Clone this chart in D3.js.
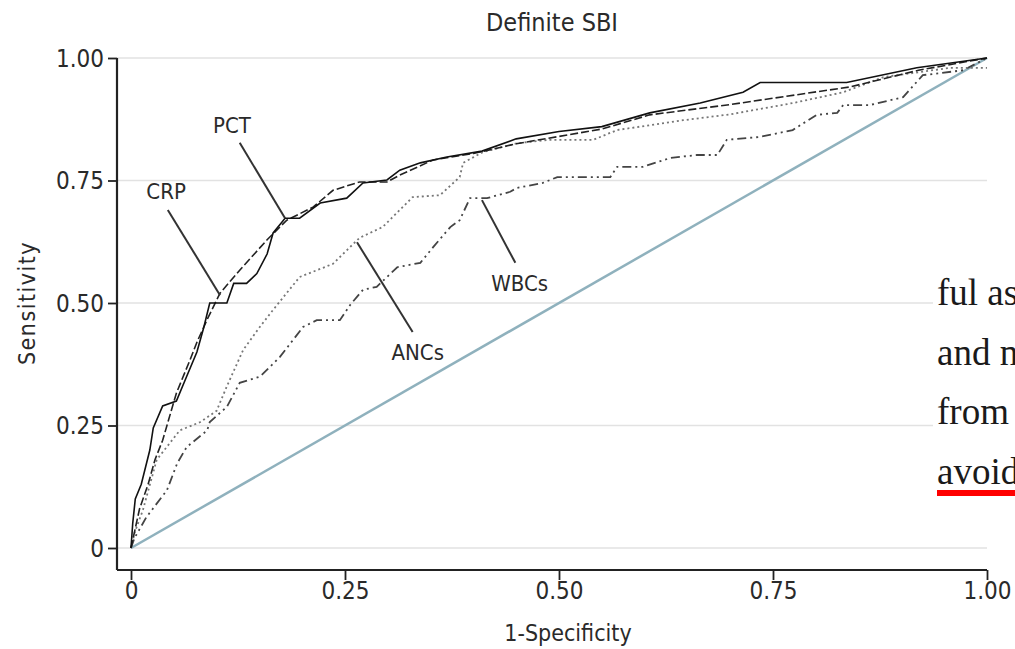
<!DOCTYPE html>
<html>
<head>
<meta charset="utf-8">
<script src="https://cdn.jsdelivr.net/npm/d3@7"></script>
<style>
  body { margin: 0; background: #fff; }
  svg { display: block; }
</style>
</head>
<body>
<div id="chart"></div>
<script>
// ROC curves, values as [1-specificity, sensitivity]
const pct = [[0,0],[0.002,0.05],[0.005,0.10],[0.012,0.13],[0.022,0.20],[0.026,0.245],[0.037,0.29],[0.053,0.30],[0.065,0.35],[0.077,0.40],[0.085,0.45],[0.092,0.50],[0.112,0.50],[0.12,0.54],[0.135,0.54],[0.147,0.56],[0.159,0.60],[0.166,0.643],[0.18,0.673],[0.197,0.673],[0.221,0.704],[0.252,0.714],[0.271,0.745],[0.299,0.751],[0.314,0.771],[0.338,0.786],[0.369,0.798],[0.41,0.81],[0.45,0.835],[0.5,0.85],[0.55,0.86],[0.606,0.888],[0.665,0.908],[0.715,0.93],[0.735,0.95],[0.836,0.95],[0.918,0.98],[1,1]]
const crp = [[0,0],[0.005,0.04],[0.01,0.08],[0.02,0.13],[0.028,0.18],[0.037,0.22],[0.053,0.316],[0.069,0.384],[0.077,0.42],[0.09,0.47],[0.104,0.52],[0.127,0.567],[0.159,0.629],[0.182,0.669],[0.213,0.696],[0.236,0.73],[0.267,0.747],[0.299,0.747],[0.314,0.761],[0.353,0.792],[0.4,0.805],[0.45,0.825],[0.5,0.84],[0.55,0.855],[0.606,0.884],[0.7,0.905],[0.84,0.941],[0.92,0.975],[1,1]]
const ancs = [[0,0],[0.004,0.03],[0.014,0.078],[0.03,0.18],[0.057,0.24],[0.081,0.257],[0.1,0.28],[0.112,0.33],[0.131,0.404],[0.15,0.45],[0.166,0.486],[0.197,0.553],[0.236,0.58],[0.267,0.633],[0.294,0.655],[0.329,0.716],[0.361,0.72],[0.384,0.757],[0.388,0.786],[0.411,0.808],[0.451,0.826],[0.489,0.833],[0.54,0.833],[0.568,0.853],[0.645,0.873],[0.7,0.885],[0.773,0.908],[0.832,0.93],[0.879,0.961],[0.957,0.98],[1,0.98]]
const wbcs = [[0,0],[0.004,0.02],[0.018,0.063],[0.042,0.118],[0.054,0.173],[0.065,0.206],[0.089,0.24],[0.092,0.257],[0.112,0.288],[0.127,0.337],[0.151,0.35],[0.174,0.39],[0.201,0.451],[0.217,0.465],[0.244,0.465],[0.256,0.496],[0.271,0.527],[0.287,0.533],[0.311,0.573],[0.338,0.582],[0.353,0.614],[0.373,0.655],[0.384,0.669],[0.396,0.714],[0.416,0.714],[0.443,0.727],[0.451,0.735],[0.481,0.745],[0.498,0.757],[0.56,0.757],[0.568,0.778],[0.598,0.778],[0.63,0.796],[0.661,0.802],[0.685,0.802],[0.696,0.833],[0.735,0.839],[0.773,0.853],[0.801,0.884],[0.825,0.888],[0.832,0.904],[0.863,0.904],[0.902,0.92],[0.925,0.965],[0.945,0.969],[0.972,0.975],[1,1]]
const reference = [[0,0],[1,1]]

const ticks = [0, 0.25, 0.5, 0.75, 1]
const tickLabels = ["0", "0.25", "0.50", "0.75", "1.00"]

// label text, label position, leader line start and end (data coords)
const labelNames = ["PCT", "CRP", "ANCs", "WBCs"]
const labelAt = [[0.118, 0.863], [0.041, 0.727], [0.335, 0.40], [0.454, 0.541]]
const leaderFrom = [[0.127, 0.827], [0.043, 0.69], [0.264, 0.624], [0.41, 0.71]]
const leaderTo = [[0.18, 0.673], [0.104, 0.516], [0.329, 0.441], [0.449, 0.582]]

const pageLines = ["ful as", "and n", "from", "avoid"]

const width = 1015, height = 649
const font = "'DejaVu Sans Condensed', 'Liberation Sans Narrow', sans-serif"

const x = d3.scaleLinear().domain([0, 1]).range([131, 987])
const y = d3.scaleLinear().domain([0, 1]).range([548, 58])

const svg = d3.select("#chart").append("svg")
    .attr("width", width)
    .attr("height", height)
    .style("font-family", font)

// grid
svg.append("g")
    .selectAll("line")
    .data(ticks)
    .join("line")
    .attr("x1", 117).attr("x2", x(1))
    .attr("y1", d => y(d)).attr("y2", d => y(d))
    .attr("stroke", "#e2e2e2")
    .attr("stroke-width", 1.5)

// axes
const yAxis = svg.append("g")
    .attr("transform", "translate(117,0)")
    .call(d3.axisLeft(y).tickValues(ticks).tickFormat((d, i) => tickLabels[i]).tickSize(9).tickSizeOuter(0))
const xAxis = svg.append("g")
    .attr("transform", "translate(0,570)")
    .call(d3.axisBottom(x).tickValues(ticks).tickFormat((d, i) => tickLabels[i]).tickSize(10).tickSizeOuter(0))

yAxis.select(".domain").attr("d", `M0,${y(1)}V570`)
xAxis.select(".domain").attr("d", `M117,0H${x(1)}`)
for (const ax of [xAxis, yAxis]) {
    ax.select(".domain").attr("stroke", "#222").attr("stroke-width", 2.2)
    ax.selectAll(".tick line").attr("stroke", "#222").attr("stroke-width", 1.8)
    ax.selectAll("text").attr("fill", "#2a2a2a").style("font-size", "24px").style("font-family", font)
}
yAxis.selectAll("text").attr("x", -13).attr("dy", "0.35em")
xAxis.selectAll("text").attr("y", 12)

svg.append("text")
    .attr("x", 552).attr("y", 31)
    .attr("text-anchor", "middle")
    .attr("fill", "#2a2a2a")
    .style("font-size", "25px")
    .text("Definite SBI")

svg.append("text")
    .attr("x", x(0.5) + 9).attr("y", 641)
    .attr("text-anchor", "middle")
    .attr("fill", "#2a2a2a")
    .style("font-size", "23px")
    .text("1-Specificity")

svg.append("text")
    .attr("transform", `translate(35,${y(0.5)}) rotate(-90)`)
    .attr("text-anchor", "middle")
    .attr("fill", "#2a2a2a")
    .style("font-size", "23px")
    .style("letter-spacing", "1.5px")
    .text("Sensitivity")

const line = d3.line().x(d => x(d[0])).y(d => y(d[1]))

const series = [
    { data: reference, color: "#8fb1bd", dash: null, w: 2.5 },
    { data: wbcs, color: "#444", dash: "9,4,2,4,2,4", w: 1.8 },
    { data: ancs, color: "#777", dash: "2,3", w: 1.8 },
    { data: crp, color: "#222", dash: "8,3", w: 1.6 },
    { data: pct, color: "#111", dash: null, w: 1.6 }
]

svg.append("g")
    .selectAll("path")
    .data(series)
    .join("path")
    .attr("d", d => line(d.data))
    .attr("fill", "none")
    .attr("stroke", d => d.color)
    .attr("stroke-width", d => d.w)
    .attr("stroke-dasharray", d => d.dash)

// leader lines and labels
svg.append("g")
    .selectAll("line")
    .data(labelNames)
    .join("line")
    .attr("x1", (d, i) => x(leaderFrom[i][0])).attr("y1", (d, i) => y(leaderFrom[i][1]))
    .attr("x2", (d, i) => x(leaderTo[i][0])).attr("y2", (d, i) => y(leaderTo[i][1]))
    .attr("stroke", "#333")
    .attr("stroke-width", 2)

svg.append("g")
    .selectAll("text")
    .data(labelNames)
    .join("text")
    .attr("x", (d, i) => x(labelAt[i][0]))
    .attr("y", (d, i) => y(labelAt[i][1]))
    .attr("dy", "0.35em")
    .attr("text-anchor", "middle")
    .attr("fill", "#2a2a2a")
    .style("font-size", "22px")
    .text(d => d)

// page text overlapping the right side of the figure
svg.append("rect")
    .attr("x", 933).attr("y", 262)
    .attr("width", width - 933).attr("height", 240)
    .attr("fill", "#fff")

svg.append("g")
    .selectAll("text")
    .data(pageLines)
    .join("text")
    .attr("x", 937)
    .attr("y", (d, i) => 305 + i * 59.5)
    .attr("fill", "#1a1a1a")
    .style("font-family", "'Liberation Serif', 'DejaVu Serif', serif")
    .style("font-size", "37px")
    .text(d => d)

svg.append("rect")
    .attr("x", 937).attr("y", 490)
    .attr("width", width - 937).attr("height", 6)
    .attr("fill", "#f00")
</script>
</body>
</html>
